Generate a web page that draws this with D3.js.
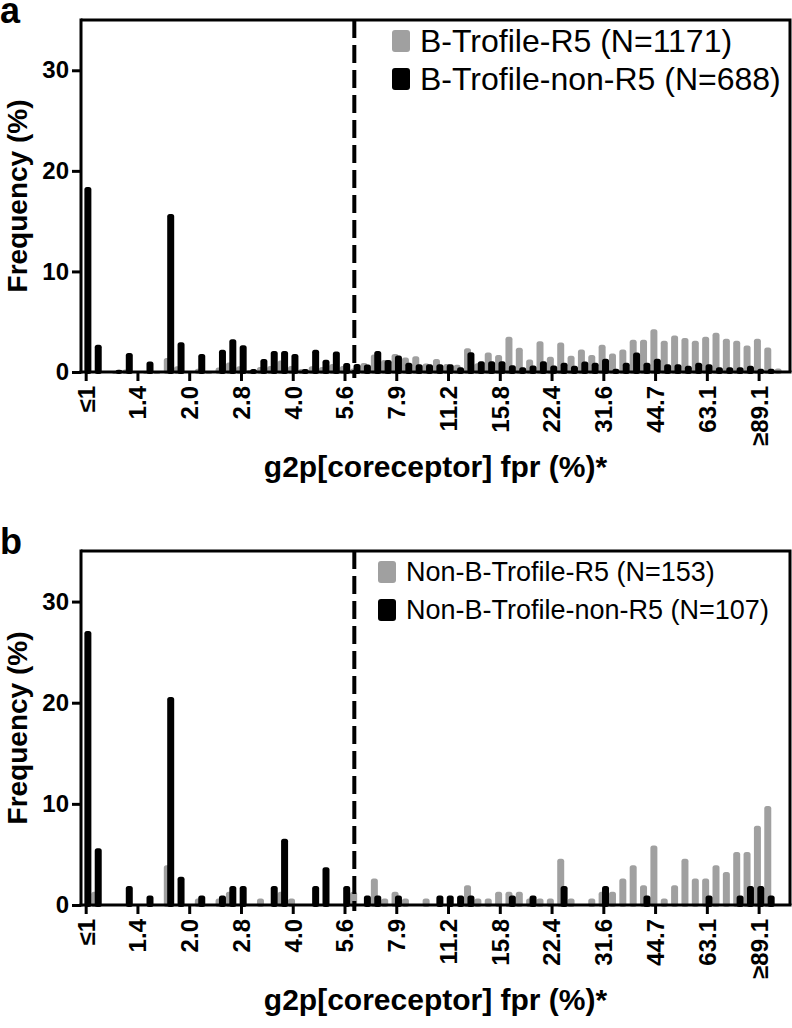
<!DOCTYPE html>
<html>
<head>
<meta charset="utf-8">
<script src="https://cdn.jsdelivr.net/npm/d3@7"></script>
<style>
    body { margin: 0; background: #fff; }
    svg { display: block; font-family: "Liberation Sans", Arial, sans-serif; }
    .axis path, .axis line { stroke: #000; stroke-width: 3; }
    .axis text { font-weight: bold; font-size: 24px; fill: #000; }
    .axis-title { font-weight: bold; }
</style>
</head>
<body>
<div id="chart"></div>
<script>
//Colores
const COLOR_R5 = '#a0a0a0',
COLOR_NON_R5 = '#000000';

//Bins de fpr (10^0.03 por bin), una etiqueta cada 5 bins
let bins = d3.range(68);
let tickBins = [0, 5, 10, 15, 20, 25, 30, 35, 40, 45, 50, 55, 60, 65];
let tickLabels = ['\u22641', '1.4', '2.0', '2.8', '4.0', '5.6', '7.9', '11.2', '15.8', '22.4', '31.6', '44.7', '63.1', '\u226589.1'];
let yTicks = [0, 10, 20, 30];
let cutoffBin = 26.4;

//Panel a: subtipo B
let aR5 = [
    0, 0, 0, 0.1, 0.26, 0, 0.1, 0.1, 1.39, 0.56,
    0, 0.33, 0.1, 0.45, 0.95, 0.56, 0.2, 0.5, 0.6, 1.15,
    0.6, 0.3, 0.56, 0.5, 0.8, 0.6, 0.35, 0.9, 1.75, 1.2,
    1.8, 1.45, 1.57, 0.85, 1.3, 0.8, 0.72, 2.37, 0.88, 1.95,
    1.7, 3.5, 2.42, 1.25, 3.05, 1.52, 2.94, 1.62, 2.24, 1.68,
    2.7, 1.85, 2.24, 3.2, 3.2, 4.24, 3.1, 3.63, 3.37, 3.1,
    3.5, 3.9, 3.3, 3.1, 2.64, 3.3, 2.44, 0.36
];
let aNonR5 = [
    18.4, 2.7, 0, 0.23, 1.9, 0, 1.05, 0, 15.7, 2.95,
    0, 1.8, 0, 2.2, 3.25, 2.65, 0.3, 1.3, 2.1, 2.1,
    1.8, 0.3, 2.2, 1.22, 2.05, 0.9, 0.8, 0.75, 2.08, 1.2,
    1.65, 0.92, 0.76, 0.76, 0.78, 0.78, 0.46, 1.97, 1.07, 1.07,
    1.07, 0.66, 0.48, 0.64, 1.07, 0.64, 0.92, 0.63, 1.05, 0.92,
    1.32, 0.33, 0.92, 1.95, 0.92, 1.32, 0.76, 0.76, 0.63, 0.92,
    0.76, 0.46, 0.46, 0.46, 0.63, 0.33, 0.33, 0
];

//Panel b: subtipos no-B
let bR5 = [
    0, 1.31, 0, 0, 0, 0, 0, 0, 3.92, 0,
    0, 0.654, 0, 0.654, 1.31, 0, 0, 0.654, 0, 1.31,
    0.654, 0, 0, 0, 0, 0, 1.31, 0, 2.61, 0.654,
    1.31, 0.654, 0, 0.654, 0, 0, 0, 1.96, 0.654, 0.654,
    1.31, 1.31, 1.31, 0.654, 0.654, 0.654, 4.58, 0.654, 0, 0.654,
    1.31, 1.31, 2.61, 3.92, 1.96, 5.88, 0.654, 1.96, 4.58, 2.61,
    2.61, 3.92, 3.27, 5.23, 5.23, 7.84, 9.8, 0
];
let bNonR5 = [
    27.1, 5.61, 0, 0, 1.87, 0, 0.935, 0, 20.56, 2.8,
    0, 0.935, 0, 0.935, 1.87, 1.87, 0, 0, 1.87, 6.54,
    0, 0, 1.87, 3.74, 0, 1.87, 0, 0.935, 0.935, 0,
    0.935, 0, 0, 0, 0.935, 0.935, 0.935, 0.935, 0, 0,
    0, 0.935, 0, 0.935, 0, 0, 1.87, 0, 0, 0,
    1.87, 0, 0, 0, 0.935, 0, 0, 0, 0, 0,
    0.935, 0, 0, 0.935, 1.87, 1.87, 0.935, 0
];

let panels = [
    {letter: 'a', top: 20, bottom: 372, series: [
        {name: 'B-Trofile-R5 (N=1171)', values: aR5, color: COLOR_R5},
        {name: 'B-Trofile-non-R5 (N=688)', values: aNonR5, color: COLOR_NON_R5}
    ], legendX: 392, legendSize: 32},
    {letter: 'b', top: 551, bottom: 905, series: [
        {name: 'Non-B-Trofile-R5 (N=153)', values: bR5, color: COLOR_R5},
        {name: 'Non-B-Trofile-non-R5 (N=107)', values: bNonR5, color: COLOR_NON_R5}
    ], legendX: 378, legendSize: 27}
];

let width = 792, height = 1028;
let left = 81, right = 790, barsRight = 785;
let barWidth = 7;

let svg = d3.select('#chart')
    .append('svg')
        .attr('width', width)
        .attr('height', height);

let x = d3.scaleBand()
    .domain(bins)
    .range([left, barsRight])
    .padding(0);

//Desplazamiento de cada serie dentro del bin
let xSub = d3.scalePoint()
    .domain([0, 1])
    .range([-1.7, 1.7]);

//Escala continua para la linea de corte
let xLin = d3.scaleLinear()
    .domain([0, bins.length])
    .range([left, barsRight]);

function drawPanel(p) {
    let g = svg.append('g');

    let y = d3.scaleLinear()
        .domain([0, 35])
        .range([p.bottom, p.top]);

    //Barras
    p.series.forEach(function(s, si) {
        g.append('g')
            .selectAll('rect')
            .data(s.values.map(function(v, i) { return {bin: i, value: v}; }).filter(function(d) { return d.value > 0; }))
            .enter()
            .append('rect')
            .attr('x', function(d) { return x(d.bin) + x.bandwidth() / 2 + xSub(si) - barWidth / 2; })
            .attr('y', function(d) { return y(d.value); })
            .attr('width', barWidth)
            .attr('height', function(d) { return y(0) - y(d.value) + 2; })
            .attr('rx', 2.5)
            .attr('fill', s.color);
    });

    //Marco superior y derecho
    g.append('path')
        .attr('d', 'M' + left + ',' + p.top + 'H' + right + 'V' + p.bottom)
        .attr('fill', 'none')
        .attr('stroke', '#000')
        .attr('stroke-width', 3);

    //Eje Y
    g.append('g')
        .attr('class', 'axis')
        .attr('transform', 'translate(' + left + ',0)')
        .call(d3.axisLeft(y).tickValues(yTicks).tickSize(9).tickPadding(3).tickSizeOuter(0))
        .call(function(a) { a.select('.domain').attr('d', 'M0,' + (p.bottom + 1.5) + 'V' + (p.top - 1.5)); });

    //Eje X
    g.append('g')
        .attr('class', 'axis')
        .attr('transform', 'translate(0,' + p.bottom + ')')
        .call(d3.axisBottom(x).tickValues(tickBins).tickSize(9).tickSizeOuter(0).tickFormat(function(d, i) { return tickLabels[i]; }))
        .call(function(a) {
            a.select('.domain').attr('d', 'M' + (left - 1.5) + ',0H' + (right + 1.5));
            a.selectAll('.tick text')
                .attr('transform', 'rotate(-90)')
                .attr('text-anchor', 'end')
                .attr('x', -14)
                .attr('y', 0)
                .attr('dy', '0.35em');
        });

    //Linea de corte
    g.append('line')
        .attr('x1', xLin(cutoffBin))
        .attr('x2', xLin(cutoffBin))
        .attr('y1', p.top)
        .attr('y2', p.bottom + 6)
        .attr('stroke', '#000')
        .attr('stroke-width', 4)
        .attr('stroke-dasharray', '18,7');

    //Titulos
    g.append('text')
        .attr('class', 'axis-title')
        .attr('font-size', 28)
        .attr('transform', 'translate(27,' + ((p.top + p.bottom) / 2) + ') rotate(-90)')
        .attr('text-anchor', 'middle')
        .text('Frequency (%)');

    g.append('text')
        .attr('class', 'axis-title')
        .attr('font-size', 30)
        .attr('x', (left + right) / 2)
        .attr('y', p.bottom + 105)
        .attr('text-anchor', 'middle')
        .text('g2p[coreceptor] fpr (%)*');

    g.append('text')
        .attr('x', 0)
        .attr('y', p.top + 3)
        .attr('font-weight', 'bold')
        .attr('font-size', 36)
        .text(p.letter);

    //Leyenda
    let legend = g.append('g');
    p.series.forEach(function(s, si) {
        let ly = p.top + 21 + si * 38;
        legend.append('rect')
            .attr('x', p.legendX)
            .attr('y', ly - 11)
            .attr('width', 18)
            .attr('height', 22)
            .attr('rx', 3)
            .attr('fill', s.color);
        legend.append('text')
            .attr('x', p.legendX + 28)
            .attr('y', ly)
            .attr('dy', '0.35em')
            .attr('font-size', p.legendSize)
            .text(s.name);
    });
}

panels.forEach(drawPanel);
</script>
</body>
</html>
